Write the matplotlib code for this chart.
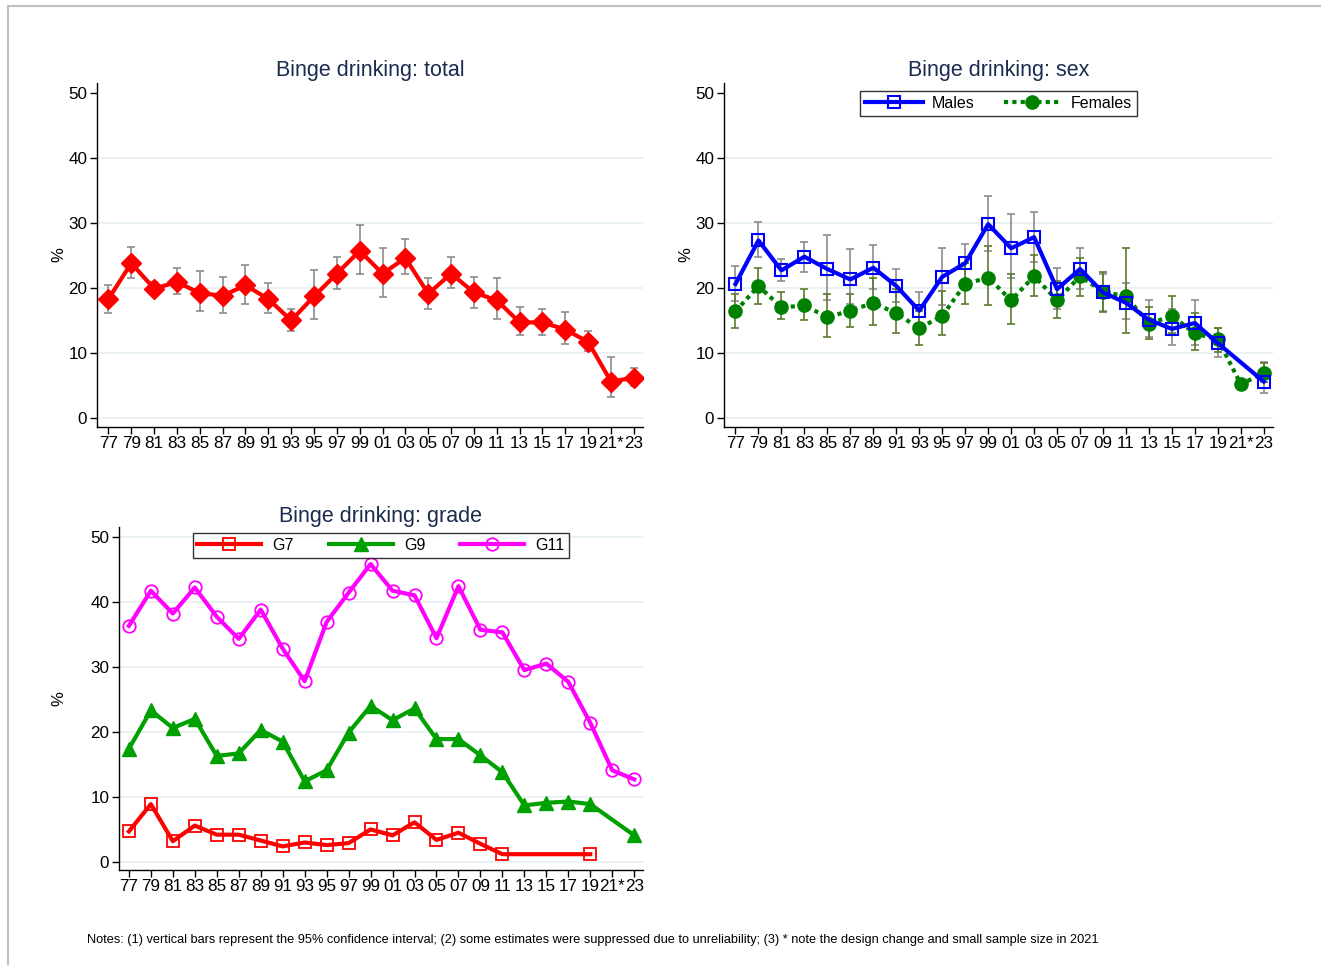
import numpy as np
import matplotlib
matplotlib.use("Agg")
from matplotlib import pyplot as plt
from matplotlib.lines import Line2D

plt.rcParams['font.family'] = ['Liberation Sans', 'DejaVu Sans']

nan = np.nan
years = ['77', '79', '81', '83', '85', '87', '89', '91', '93', '95', '97', '99',
         '01', '03', '05', '07', '09', '11', '13', '15', '17', '19', '21*', '23']

# total, with 95% CI
total = [18.3, 23.8, 19.9, 20.9, 19.2, 18.8, 20.4, 18.3, 15.0, 18.7, 22.2, 25.7,
         22.2, 24.6, 19.1, 22.2, 19.3, 18.1, 14.7, 14.7, 13.6, 11.7, 5.6, 6.2]
total_hi = [20.5, 26.3, 20.9, 23.0, 22.6, 21.7, 23.5, 20.8, 16.8, 22.7, 24.7, 29.6,
            26.2, 27.5, 21.6, 24.7, 21.7, 21.6, 17.1, 16.8, 16.3, 13.4, 9.4, 7.7]
total_lo = [16.2, 21.5, 19.0, 19.0, 16.4, 16.2, 17.5, 16.1, 13.4, 15.2, 19.8, 22.2,
            18.6, 22.2, 16.7, 20.0, 16.9, 15.2, 12.8, 12.8, 11.4, 10.3, 3.3, 4.9]

# by sex
males = [20.6, 27.3, 22.7, 24.8, 22.9, 21.3, 23.1, 20.3, 16.5, 21.7, 23.8, 29.8,
         26.1, 27.8, 19.8, 22.9, 19.3, 17.7, 15.1, 13.7, 14.6, 11.5, nan, 5.6]
males_hi = [23.4, 30.1, 24.4, 27.1, 28.2, 26.0, 26.6, 22.9, 19.3, 26.2, 26.8, 34.2,
            31.3, 31.6, 23.1, 26.1, 22.2, 20.7, 18.1, 16.7, 18.1, 13.9, nan, 8.6]
males_lo = [18.0, 24.8, 21.1, 22.4, 18.1, 17.5, 19.8, 17.8, 13.8, 17.4, 20.9, 25.6,
            21.5, 24.0, 16.8, 19.9, 16.5, 15.2, 12.4, 11.2, 11.3, 9.4, nan, 3.9]
females = [16.4, 20.3, 17.0, 17.3, 15.5, 16.5, 17.7, 16.1, 13.8, 15.7, 20.6, 21.6,
           18.1, 21.8, 18.1, 21.8, 19.4, 18.7, 14.5, 15.7, 13.0, 12.1, 5.2, 6.9]
females_hi = [19.0, 23.1, 19.3, 19.8, 19.1, 19.1, 21.6, 19.8, 16.4, 19.5, 23.9, 26.5,
              22.1, 25.1, 21.1, 24.6, 22.4, 26.1, 17.1, 18.8, 16.2, 13.9, 6.0, 8.5]
females_lo = [13.9, 17.6, 15.2, 15.0, 12.5, 14.0, 14.3, 13.1, 11.3, 12.7, 17.6, 17.3,
              14.5, 18.7, 15.4, 18.8, 16.3, 13.1, 12.2, 13.1, 10.4, 10.2, 4.5, 5.5]

# by grade
g7 = [4.7, 8.9, 3.2, 5.6, 4.2, 4.2, 3.3, 2.4, 3.0, 2.6, 2.9, 5.0,
      4.1, 6.1, 3.4, 4.5, 2.8, 1.2, nan, nan, nan, 1.2, nan, nan]
g9 = [17.4, 23.3, 20.6, 22.0, 16.3, 16.7, 20.3, 18.5, 12.4, 14.1, 19.9, 24.0,
      21.8, 23.6, 18.9, 18.9, 16.4, 13.8, 8.7, 9.1, 9.3, 8.9, nan, 4.1]
g11 = [36.3, 41.7, 38.2, 42.2, 37.7, 34.3, 38.8, 32.8, 27.8, 36.9, 41.4, 45.8,
       41.7, 41.0, 34.4, 42.4, 35.7, 35.3, 29.5, 30.5, 27.7, 21.4, 14.1, 12.7]

notes = ("Notes: (1) vertical bars represent the 95% confidence interval; (2) some estimates "
         "were suppressed due to unreliability; (3) * note the design change and small sample size in 2021")

title_col = '#1a2b4f'
grid_col = '#e6eff1'

x = np.arange(len(years))


def connect(ax, vals, **kw):
    # stata connects over missing values, so drop them first
    v = np.array(vals, dtype=float)
    m = ~np.isnan(v)
    return ax.plot(x[m], v[m], **kw)


def ci(ax, vals, lo, hi, color):
    v = np.array(vals, dtype=float)
    lo = np.array(lo, dtype=float)
    hi = np.array(hi, dtype=float)
    m = ~np.isnan(v)
    ax.errorbar(x[m], v[m], yerr=[v[m] - lo[m], hi[m] - v[m]], fmt='none',
                ecolor=color, elinewidth=1.2, capsize=3, capthick=1.2, zorder=2)


def style(ax, title, ylim, grid50=False, pad=6, ypad=1.5):
    ax.set_xlim(-0.5, 23.4)
    ax.set_ylim(*ylim)
    ax.set_xticks(x)
    ax.set_xticklabels(years)
    ax.set_yticks([0, 10, 20, 30, 40, 50])
    ax.tick_params(axis='both', labelsize=12.3, length=5, width=1, direction='out', pad=2)
    ax.tick_params(axis='x', pad=1.5)
    for s in ['top', 'right']:
        ax.spines[s].set_visible(False)
    ax.spines['left'].set_linewidth(1)
    ax.spines['bottom'].set_linewidth(1)
    lvls = [0, 10, 20, 30, 40, 50] if grid50 else [0, 10, 20, 30, 40]
    for g in lvls:
        ax.axhline(g, color=grid_col, lw=1.2, zorder=0)
    ax.set_title(title, fontsize=15.5, color=title_col, pad=pad)
    ax.set_ylabel('%', fontsize=12, labelpad=ypad)


fig = plt.figure(figsize=(13.21, 9.65), dpi=100)

# frame of the page
fig.add_artist(Line2D([8 / 1321, 8 / 1321], [0, 1 - 6 / 965], color='#c0c0c0', lw=1.5))
fig.add_artist(Line2D([8 / 1321, 1], [1 - 6 / 965, 1 - 6 / 965], color='#c0c0c0', lw=1.5))

# total
ax1 = fig.add_axes([97 / 1321, 1 - 427 / 965, (643 - 97) / 1321, (427 - 83) / 965])
ci(ax1, total, total_lo, total_hi, '#8c8c8c')
connect(ax1, total, color='red', lw=3, marker='D', ms=10.5, zorder=3)
style(ax1, 'Binge drinking: total', (-1.38, 51.5), pad=5)

# sex
ax2 = fig.add_axes([724 / 1321, 1 - 427 / 965, (1273 - 724) / 1321, (427 - 83) / 965])
ci(ax2, males, males_lo, males_hi, '#8c8c8c')
ci(ax2, females, females_lo, females_hi, '#5b7a2e')
connect(ax2, females, color='#008000', lw=3, ls=(0, (1, 1)), marker='o', ms=9.5,
        zorder=3, label='Females')
connect(ax2, males, color='#0000ff', lw=3, marker='s', ms=9, mfc='none', mew=1.5,
        zorder=4, label='Males')
style(ax2, 'Binge drinking: sex', (-1.38, 51.5), pad=5)
h, l = ax2.get_legend_handles_labels()
leg = ax2.legend(h[::-1], l[::-1], loc='upper center', bbox_to_anchor=(0.5, 1.0), ncol=2,
                 fontsize=11.5, frameon=True, fancybox=False, edgecolor='black',
                 handlelength=3.6, columnspacing=1.8, borderpad=0.3, handletextpad=0.6)
leg.get_frame().set_linewidth(1)

# grade
ax3 = fig.add_axes([119 / 1321, 1 - 870 / 965, (643 - 119) / 1321, (870 - 527) / 965])
connect(ax3, g7, color='red', lw=3, marker='s', ms=9, mfc='none', mew=1.3, label='G7', zorder=3)
connect(ax3, g9, color='#00a000', lw=3, marker='^', ms=10, label='G9', zorder=3)
connect(ax3, g11, color='#ff00ff', lw=3, marker='o', ms=9, mfc='none', mew=1.3, label='G11', zorder=3)
style(ax3, 'Binge drinking: grade', (-1.23, 51.5), grid50=True, pad=2, ypad=17)
ax3.set_xlim(-0.45, 23.4)
leg = ax3.legend(loc='upper center', bbox_to_anchor=(0.5, 1.005), ncol=3,
                 fontsize=11.5, frameon=True, fancybox=False, edgecolor='black',
                 handlelength=4.0, columnspacing=2.2, borderpad=0.3, handletextpad=0.7)
leg.get_frame().set_linewidth(1)

fig.text(87 / 1321, 1 - 940 / 965, notes, fontsize=9.2, va='center', ha='left')

fig.savefig('out.png', dpi=100, facecolor='white')
